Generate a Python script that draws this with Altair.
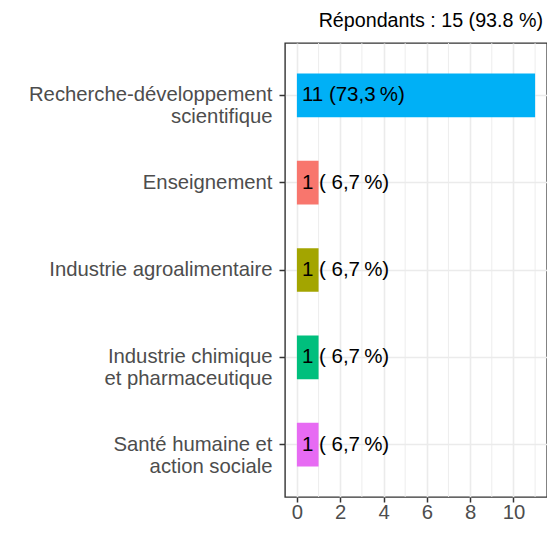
import altair as alt
import pandas as pd

categories = [
    "Recherche-développement\nscientifique",
    "Enseignement",
    "Industrie agroalimentaire",
    "Industrie chimique\net pharmaceutique",
    "Santé humaine et\naction sociale",
]
counts = [11, 1, 1, 1, 1]
labels = [
    "11 (73,3\u202f%)",
    "1 ( 6,7\u202f%)",
    "1 ( 6,7\u202f%)",
    "1 ( 6,7\u202f%)",
    "1 ( 6,7\u202f%)",
]
colors = ["#00B0F6", "#F8766D", "#A3A500", "#00BF7D", "#E76BF3"]
major_ticks = [0, 2, 4, 6, 8, 10]
minor_ticks = [1, 3, 5, 7, 9, 11]
title_text = "Répondants : 15 (93.8 %)"

df = pd.DataFrame({"cat": categories, "n": counts, "lab": labels})
minor_df = pd.DataFrame({"v": minor_ticks})

FONT = "Liberation Sans"
xscale = alt.Scale(domain=[-0.55, 11.55], nice=False, zero=False)
yscale = alt.Scale(domain=categories, paddingInner=0.5, paddingOuter=0.35)

minor = alt.Chart(minor_df).mark_rule(color="#EBEBEB", strokeWidth=0.9).encode(
    x=alt.X("v:Q", scale=xscale)
)

bars = alt.Chart(df).mark_bar().encode(
    x=alt.X(
        "n:Q",
        scale=xscale,
        axis=alt.Axis(
            values=major_ticks, title=None, grid=True, gridColor="#EBEBEB",
            gridWidth=1.6, tickColor="#333333", tickSize=5, tickWidth=1.5,
            labelFont=FONT, labelFontSize=20.3, labelColor="#4D4D4D",
            labelPadding=0, domain=False,
        ),
    ),
    y=alt.Y(
        "cat:N",
        scale=yscale,
        sort=categories,
        axis=alt.Axis(
            title=None, grid=True, gridColor="#EBEBEB", gridWidth=1.6,
            bandPosition=0.5, tickBand="center",
            tickColor="#333333", tickSize=6, tickWidth=1.5,
            labelFont=FONT, labelFontSize=20.3, labelColor="#4D4D4D",
            labelPadding=7, labelLineHeight=22, domain=False, labelLimit=0,
            labelExpr="split(datum.label, '\\n')",
        ),
    ),
    color=alt.Color("cat:N", scale=alt.Scale(domain=categories, range=colors), legend=None),
)

text = alt.Chart(df).mark_text(
    align="left", baseline="middle", dx=5, font=FONT, fontSize=20.5, color="black"
).encode(
    x=alt.X("zero:Q", scale=xscale),
    y=alt.Y("cat:N", scale=yscale, sort=categories),
    text="lab:N",
).transform_calculate(zero="0")

chart = (
    alt.layer(minor, bars, text)
    .properties(
        width=262,
        height=454,
        title=alt.TitleParams(
            title_text, anchor="end", frame="group", font=FONT, fontSize=19.7,
            fontWeight="normal", color="black", offset=12, dx=-4,
        ),
        autosize=alt.AutoSizeParams(type="none"),
        padding={"left": 277, "top": 35, "right": 0, "bottom": 25},
    )
    .configure_view(stroke="#333333", strokeWidth=1.4)
)

chart.save("out.html", embed_options={"renderer": "svg", "actions": False})
